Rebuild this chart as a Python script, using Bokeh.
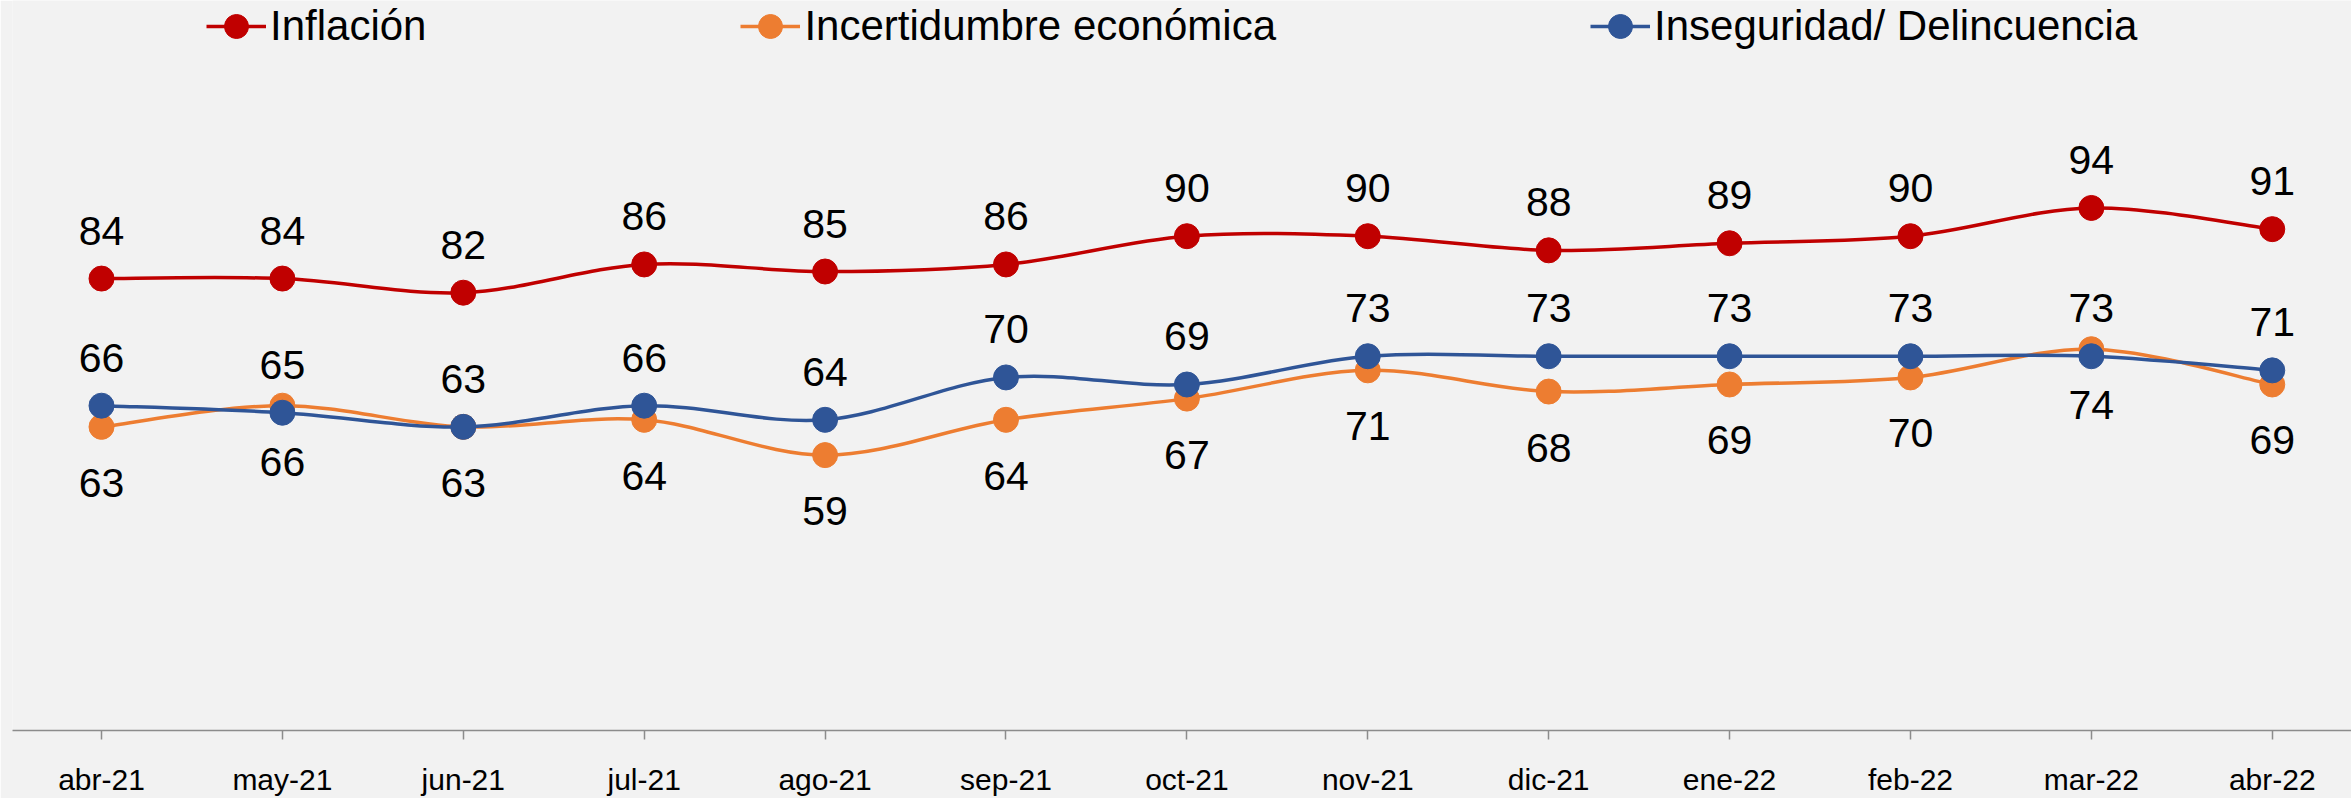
from bokeh.plotting import figure
from bokeh.models import ColumnDataSource, FixedTicker, Legend, LegendItem, Range1d
from bokeh.core.properties import value
from bokeh.embed import file_html
from bokeh.resources import INLINE

# ---- data ----
months = ["abr-21", "may-21", "jun-21", "jul-21", "ago-21", "sep-21", "oct-21",
          "nov-21", "dic-21", "ene-22", "feb-22", "mar-22", "abr-22"]
inflacion = [84, 84, 82, 86, 85, 86, 90, 90, 88, 89, 90, 94, 91]
incertidumbre = [63, 66, 63, 64, 59, 64, 67, 71, 68, 69, 70, 74, 69]
inseguridad = [66, 65, 63, 66, 64, 70, 69, 73, 73, 73, 73, 73, 71]
series_names = ["Inflación", "Incertidumbre económica", "Inseguridad/ Delincuencia"]

# ---- style ----
colors = ["#C00000", "#ED7D31", "#2F5597"]
label_offsets = [-48, 56, -48]
FONT = "Liberation Sans"
BG = "#F2F2F2"
AXIS = "#8C8C8C"

p = figure(width=2351, height=798, output_backend="svg", toolbar_location=None,
           x_range=Range1d(-0.492, 12.438), y_range=Range1d(20, 123.38),
           y_axis_location=None, min_border_left=12, min_border_right=0,
           min_border_top=0, min_border_bottom=64)
p.background_fill_color = BG
p.border_fill_color = BG
p.outline_line_color = None
p.grid.visible = False


def smooth_segments(xs, ys):
    n = len(xs)
    d = dict(x0=[], y0=[], x1=[], y1=[], cx0=[], cy0=[], cx1=[], cy1=[])
    for i in range(n - 1):
        ip, inn = max(i - 1, 0), min(i + 2, n - 1)
        d["x0"].append(xs[i]); d["y0"].append(ys[i])
        d["x1"].append(xs[i + 1]); d["y1"].append(ys[i + 1])
        d["cx0"].append(xs[i] + (xs[i + 1] - xs[ip]) / 6.0)
        d["cy0"].append(ys[i] + (ys[i + 1] - ys[ip]) / 6.0)
        d["cx1"].append(xs[i + 1] - (xs[inn] - xs[i]) / 6.0)
        d["cy1"].append(ys[i + 1] - (ys[inn] - ys[i]) / 6.0)
    return ColumnDataSource(d)


xs = list(range(len(months)))
items = []
all_series = [inflacion, incertidumbre, inseguridad]
for name, vals, col in zip(series_names, all_series, colors):
    seg = smooth_segments(xs, vals)
    p.bezier(x0="x0", y0="y0", x1="x1", y1="y1", cx0="cx0", cy0="cy0",
             cx1="cx1", cy1="cy1", source=seg, line_color=col, line_width=3.5)
    src = ColumnDataSource(dict(x=xs, y=vals))
    # hidden straight line, used only for the legend swatch
    legline = p.line(x="x", y="y", source=src, line_color=col, line_width=3.5,
                     visible=False)
    sc = p.scatter(x="x", y="y", source=src, size=25, fill_color=col, line_color=col)
    items.append(LegendItem(label=name, renderers=[legline, sc]))

for vals, off in zip(all_series, label_offsets):
    src = ColumnDataSource(dict(x=xs, y=vals, t=[str(v) for v in vals]))
    p.text(x="x", y="y", text="t", source=src, text_font=value(FONT),
           text_font_size="41px", text_align="center", text_baseline="alphabetic",
           y_offset=off, text_color="black")

legend = Legend(items=items, orientation="horizontal", location=(194, 674),
                glyph_width=60, glyph_height=60, label_standoff=4, spacing=314,
                padding=0, margin=0, border_line_color=None,
                background_fill_alpha=0, label_text_font=FONT,
                label_text_font_size="42px", label_text_color="black",
                click_policy="none")
p.add_layout(legend, "center")

ax = p.xaxis[0]
ax.ticker = FixedTicker(ticks=xs)
ax.major_label_overrides = {i: m for i, m in enumerate(months)}
ax.axis_line_color = AXIS
ax.axis_line_width = 1.5
ax.major_tick_line_color = AXIS
ax.major_tick_line_width = 1.5
ax.major_tick_out = 9
ax.major_tick_in = 0
ax.minor_tick_out = 0
ax.minor_tick_in = 0
ax.major_label_text_font = FONT
ax.major_label_text_font_size = "30px"
ax.major_label_text_color = "black"
ax.major_label_standoff = 23

open("out.html", "w").write(file_html(p, INLINE))
